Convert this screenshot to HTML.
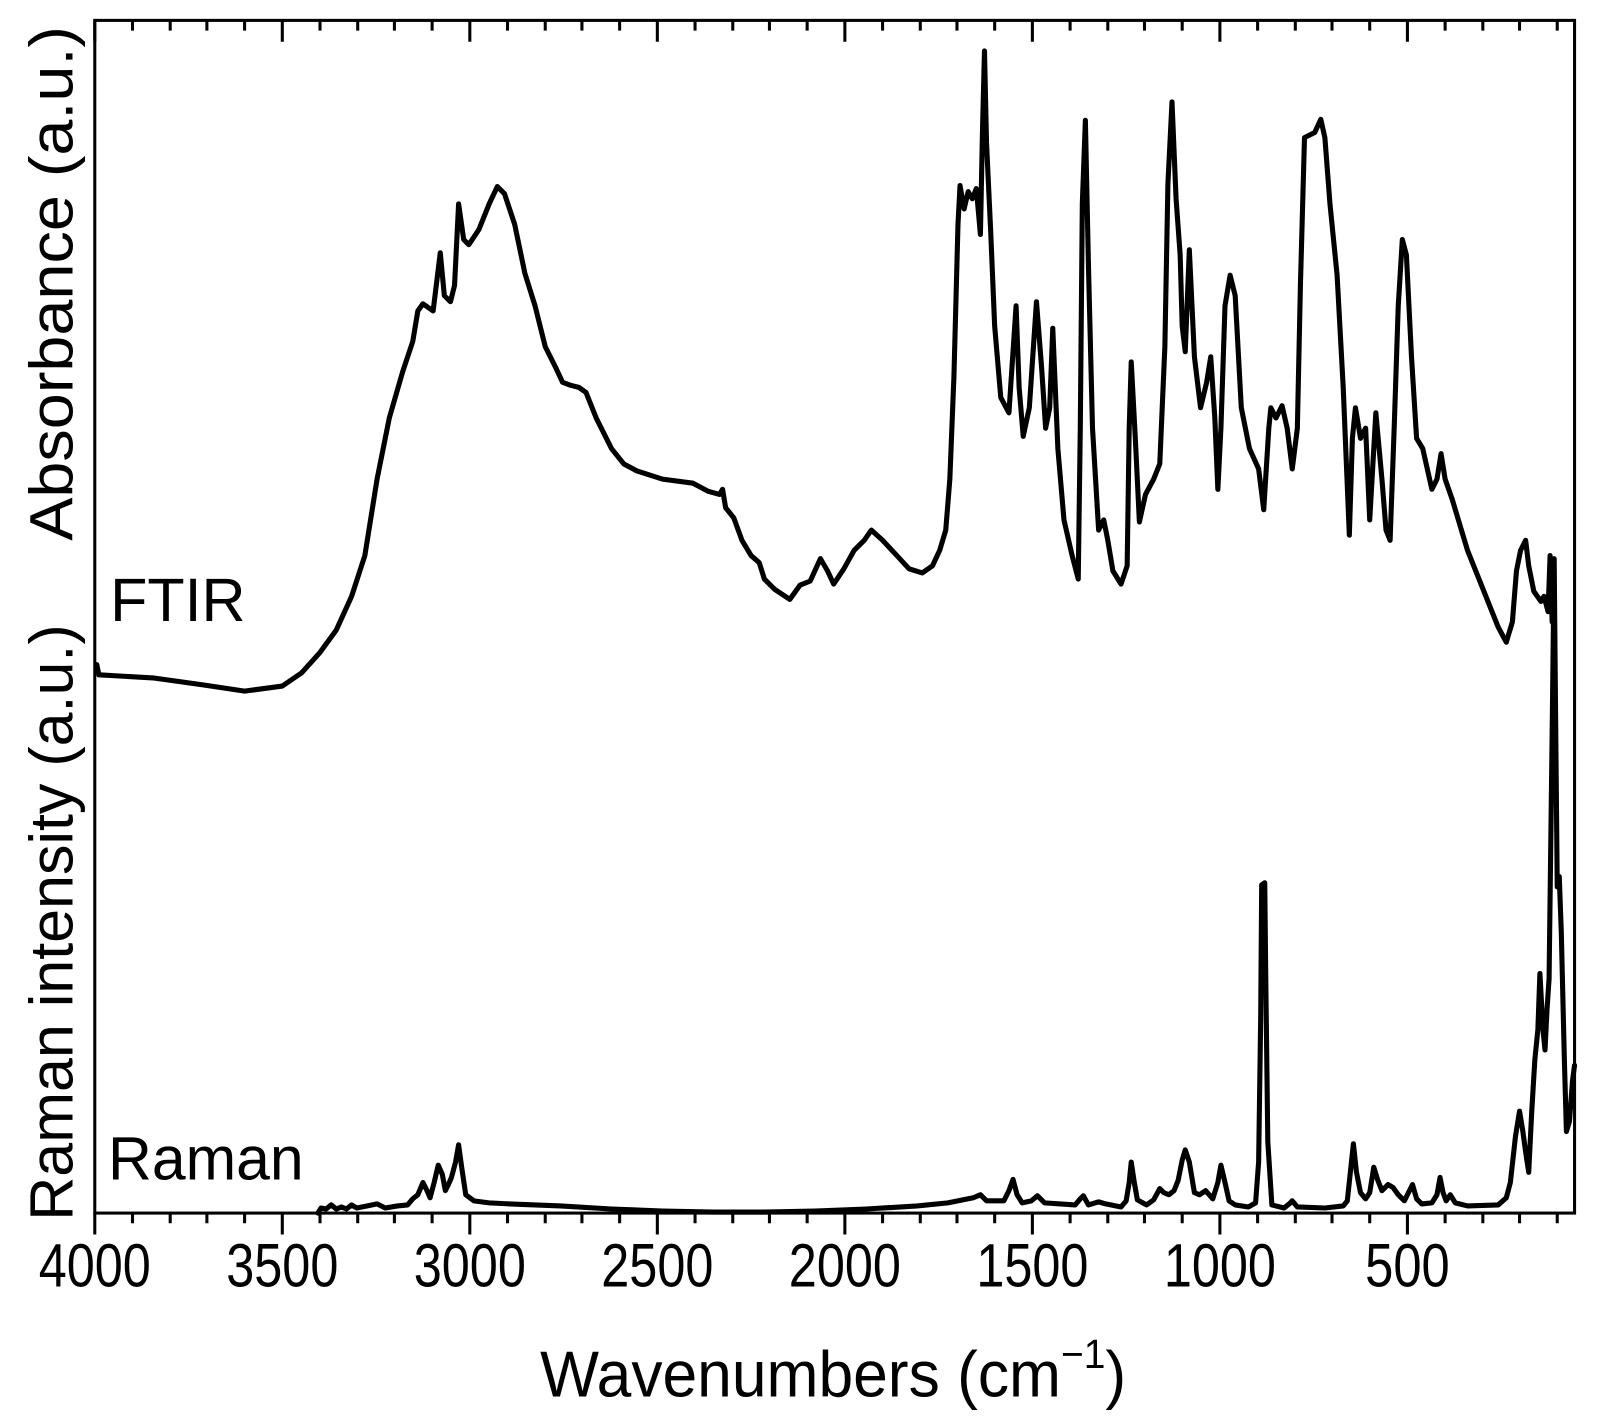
<!DOCTYPE html>
<html><head><meta charset="utf-8"><style>
html,body{margin:0;padding:0;background:#fff;}
svg{display:block;}
text{font-family:"Liberation Sans",Arial,sans-serif;fill:#000;}
</style></head><body>
<svg width="1598" height="1419" viewBox="0 0 1568 1392" preserveAspectRatio="none" xmlns="http://www.w3.org/2000/svg">
<rect x="0" y="0" width="1568" height="1392" fill="#fff"/>
<g stroke="#000" stroke-width="3" fill="none">
<rect x="93" y="20" width="1452" height="1170"/>
<path d="M93 1190v21M277 1190v21M461 1190v21M645 1190v21M829 1190v21M1013 1190v21M1197 1190v21M1381 1190v21
M93 20v21M277 20v21M461 20v21M645 20v21M829 20v21M1013 20v21M1197 20v21M1381 20v21"/>
<path d="M130 1190v10M167 1190v10M203 1190v10M240 1190v10M314 1190v10M351 1190v10M387 1190v10M424 1190v10M498 1190v10M535 1190v10M571 1190v10M608 1190v10M682 1190v10M719 1190v10M755 1190v10M792 1190v10M866 1190v10M903 1190v10M939 1190v10M976 1190v10M1050 1190v10M1087 1190v10M1123 1190v10M1160 1190v10M1234 1190v10M1271 1190v10M1307 1190v10M1344 1190v10M1418 1190v10M1455 1190v10M1491 1190v10M1528 1190v10"/>
<path d="M130 20v10M167 20v10M203 20v10M240 20v10M314 20v10M351 20v10M387 20v10M424 20v10M498 20v10M535 20v10M571 20v10M608 20v10M682 20v10M719 20v10M755 20v10M792 20v10M866 20v10M903 20v10M939 20v10M976 20v10M1050 20v10M1087 20v10M1123 20v10M1160 20v10M1234 20v10M1271 20v10M1307 20v10M1344 20v10M1418 20v10M1455 20v10M1491 20v10M1528 20v10"/>
</g>
<g stroke="#000" stroke-width="5" fill="none" stroke-linejoin="round" stroke-linecap="round">
<polyline points="95,652 97,662 150,665 200,672 240,678 277,673 296,660 314,640 330,618 345,585 358,545 370,470 382,410 395,365 405,335 410,305 415,298 425,305 432,248 436,290 442,296 446,280 450,200 455,235 460,240 470,225 480,200 488,183 495,190 505,220 515,268 525,300 535,340 545,360 552,375 560,378 568,380 575,385 585,410 600,440 612,455 625,462 650,470 680,474 695,482 706,485 709,480 712,498 720,508 728,530 737,545 745,552 750,568 760,578 775,588 785,574 795,570 805,548 812,560 818,573 828,558 838,540 848,530 855,520 866,530 880,545 892,558 905,562 915,555 922,540 928,520 932,470 936,370 940,220 942,182 946,205 950,188 954,195 958,185 962,230 964,130 966,50 968,140 972,225 976,320 982,390 990,405 995,330 997,300 1000,380 1004,428 1010,400 1017,296 1022,360 1026,420 1030,400 1033,322 1038,440 1044,510 1052,545 1058,568 1060,420 1062,200 1065,118 1068,260 1072,420 1078,520 1083,510 1087,530 1092,560 1100,573 1106,555 1108,420 1110,355 1114,430 1118,512 1124,485 1132,470 1138,455 1143,340 1146,180 1150,100 1154,195 1158,250 1160,320 1163,345 1167,245 1172,350 1178,400 1184,375 1188,350 1192,410 1195,480 1198,420 1202,300 1207,270 1212,290 1218,400 1226,440 1235,460 1240,500 1245,420 1247,400 1252,410 1258,398 1263,420 1268,460 1273,420 1276,280 1280,135 1290,130 1296,117 1300,135 1305,200 1312,270 1318,380 1324,525 1327,430 1330,400 1335,430 1340,420 1344,510 1350,405 1356,470 1360,520 1364,530 1368,420 1372,300 1376,235 1380,250 1385,350 1390,430 1396,440 1405,480 1410,470 1414,445 1418,470 1425,490 1440,540 1460,590 1470,615 1478,630 1484,610 1488,560 1492,540 1497,530 1500,555 1505,580 1512,590 1515,585 1519,600 1521,545 1523,610"/>
<polyline points="312,1190 315,1185 320,1186 325,1182 330,1186 335,1184 340,1186 345,1182 350,1185 360,1183 370,1181 378,1185 390,1183 400,1182 405,1176 410,1172 415,1160 419,1168 422,1175 426,1160 430,1143 434,1152 437,1168 440,1162 443,1155 447,1140 450,1123 453,1145 457,1172 465,1178 480,1180 500,1181 550,1183 600,1186 650,1188 700,1189 750,1189 800,1188 850,1186 900,1183 930,1180 955,1175 962,1172 968,1178 985,1178 990,1168 994,1157 998,1172 1003,1180 1012,1178 1018,1173 1025,1180 1055,1182 1060,1176 1063,1173 1068,1182 1078,1179 1085,1181 1100,1184 1105,1178 1108,1160 1110,1140 1113,1160 1116,1177 1125,1182 1132,1177 1138,1166 1142,1170 1147,1172 1152,1168 1156,1158 1160,1138 1163,1128 1167,1140 1172,1170 1177,1172 1183,1168 1190,1176 1195,1160 1198,1143 1202,1160 1206,1178 1212,1182 1225,1184 1232,1180 1235,1140 1237,1000 1238,868 1241,866 1242,960 1244,1120 1248,1182 1260,1185 1265,1181 1268,1178 1273,1184 1300,1185 1318,1183 1322,1178 1325,1150 1328,1122 1331,1150 1335,1170 1340,1176 1344,1170 1348,1145 1352,1158 1356,1168 1362,1162 1367,1165 1372,1172 1378,1178 1383,1168 1386,1162 1390,1176 1395,1181 1405,1180 1410,1172 1413,1155 1416,1170 1419,1178 1423,1172 1428,1180 1440,1183 1470,1182 1478,1175 1482,1160 1487,1115 1491,1090 1494,1108 1497,1130 1500,1150 1503,1090 1506,1040 1509,1010 1511,955 1514,1010 1516,1030 1518,990 1520,960 1521,880 1523,720 1525,548 1526,660 1528,870 1530,860 1532,915 1535,1040 1537,1110 1540,1100 1543,1060 1545,1045"/>
</g>
<g font-size="60" text-anchor="middle">
<text x="93" y="1262" textLength="110" lengthAdjust="spacingAndGlyphs">4000</text><text x="277" y="1262" textLength="110" lengthAdjust="spacingAndGlyphs">3500</text><text x="461" y="1262" textLength="110" lengthAdjust="spacingAndGlyphs">3000</text><text x="645" y="1262" textLength="110" lengthAdjust="spacingAndGlyphs">2500</text><text x="829" y="1262" textLength="110" lengthAdjust="spacingAndGlyphs">2000</text><text x="1013" y="1262" textLength="110" lengthAdjust="spacingAndGlyphs">1500</text><text x="1197" y="1262" textLength="110" lengthAdjust="spacingAndGlyphs">1000</text><text x="1381" y="1262" textLength="83" lengthAdjust="spacingAndGlyphs">500</text>
</g>
<text x="530" y="1370" font-size="64" textLength="575" lengthAdjust="spacingAndGlyphs">Wavenumbers (cm<tspan font-size="40" dy="-28">−1</tspan><tspan dy="28">)</tspan></text>
<text transform="translate(71,278) rotate(-90)" font-size="60" text-anchor="middle" textLength="505" lengthAdjust="spacingAndGlyphs">Absorbance (a.u.)</text>
<text transform="translate(71,905) rotate(-90)" font-size="60" text-anchor="middle" textLength="585" lengthAdjust="spacingAndGlyphs">Raman intensity (a.u.)</text>
<text x="108" y="609" font-size="60" textLength="133" lengthAdjust="spacingAndGlyphs">FTIR</text>
<text x="106" y="1157" font-size="60" textLength="192" lengthAdjust="spacingAndGlyphs">Raman</text>
</svg>
</body></html>
